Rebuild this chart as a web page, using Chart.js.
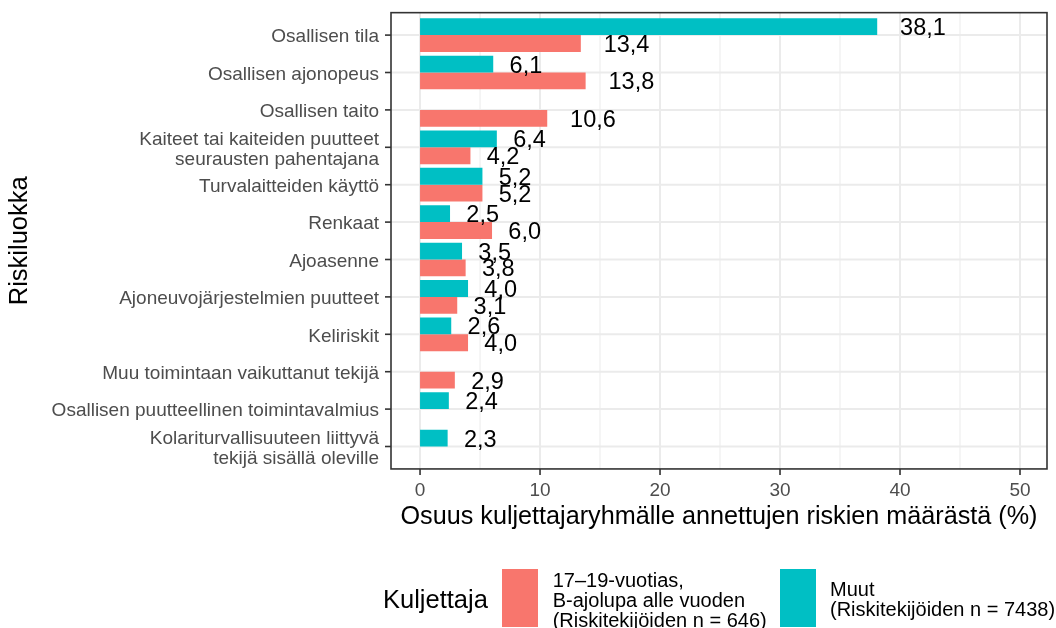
<!DOCTYPE html>
<html>
<head>
<meta charset="utf-8">
<title>Riskiluokat kuljettajaryhmittäin</title>
<script src="https://cdn.jsdelivr.net/npm/chart.js@4.4.1/dist/chart.umd.min.js"></script>
<style>
  html, body { margin: 0; padding: 0; background: #fff; }
  #wrap { position: relative; width: 1056px; height: 628px; overflow: hidden;
          font-family: "Liberation Sans", Arial, sans-serif; }
  #chart { position: absolute; left: 0; top: 0; }
  .lg { position: absolute; color: #000; white-space: nowrap; }
  .lg-title { font-size: 25.5px; line-height: 25.5px; }
  .lg-text { font-size: 20px; line-height: 20px; }
  .lg-key { position: absolute; width: 36px; height: 58px; }
</style>
</head>
<body>
<div id="wrap">
  <canvas id="chart" width="1056" height="628"></canvas>
  <div id="legend"></div>
</div>
<script>
// Riskiluokat (ylhäältä alas)
const categories = [
    'Osallisen tila',
    'Osallisen ajonopeus',
    'Osallisen taito',
    ['Kaiteet tai kaiteiden puutteet', 'seurausten pahentajana'],
    'Turvalaitteiden käyttö',
    'Renkaat',
    'Ajoasenne',
    'Ajoneuvojärjestelmien puutteet',
    'Keliriskit',
    'Muu toimintaan vaikuttanut tekijä',
    'Osallisen puutteellinen toimintavalmius',
    ['Kolariturvallisuuteen liittyvä', 'tekijä sisällä oleville']
];

// Osuus kuljettajaryhmälle annettujen riskien määrästä (%)
const muutValues   = [38.1, 6.1, null, 6.4, 5.2, 2.5, 3.5, 4.0, 2.6, null, 2.4, 2.3];
const nuoretValues = [13.4, 13.8, 10.6, 4.2, 5.2, 6.0, 3.8, 3.1, 4.0, 2.9, null, null];

const nuoretLabel = ['17–19-vuotias,', 'B-ajolupa alle vuoden', '(Riskitekijöiden n = 646)'];
const muutLabel = ['Muut', '(Riskitekijöiden n = 7438)'];

const xTicks = [0, 10, 20, 30, 40, 50];
const xMinorTicks = [5, 15, 25, 35, 45];

const RED = '#F8766D';
const TEAL = '#00BFC4';

Chart.defaults.font.family = '"Liberation Sans", Arial, sans-serif';

// ggplot-tyylinen paneeli: ruudukko, kehys, tikit ja arvotekstit
const panelPlugin = {
    id: 'panel',
    beforeDatasetsDraw(chart) {
        const { ctx, chartArea: a, scales: { x, y } } = chart;
        const ext = (a.bottom - a.top) / categories.length * 0.1;
        const top = a.top - ext, bottom = a.bottom + ext;
        ctx.save();
        ctx.strokeStyle = '#EBEBEB';
        ctx.lineWidth = 1;
        xMinorTicks.forEach(v => {
            const px = x.getPixelForValue(v);
            ctx.beginPath(); ctx.moveTo(px, top); ctx.lineTo(px, bottom); ctx.stroke();
        });
        ctx.lineWidth = 2;
        xTicks.forEach(v => {
            const px = x.getPixelForValue(v);
            ctx.beginPath(); ctx.moveTo(px, top); ctx.lineTo(px, bottom); ctx.stroke();
        });
        categories.forEach((c, i) => {
            const py = y.getPixelForValue(i);
            ctx.beginPath(); ctx.moveTo(a.left, py); ctx.lineTo(a.right, py); ctx.stroke();
        });
        ctx.restore();
    },
    afterDatasetsDraw(chart) {
        const { ctx, chartArea: a, scales: { x, y } } = chart;
        const ext = (a.bottom - a.top) / categories.length * 0.1;
        const top = a.top - ext, bottom = a.bottom + ext;
        ctx.save();

        // arvotekstit
        ctx.font = '23.5px "Liberation Sans", Arial, sans-serif';
        ctx.fillStyle = '#000';
        ctx.textAlign = 'left';
        ctx.textBaseline = 'middle';
        chart.data.datasets.forEach((ds, di) => {
            chart.getDatasetMeta(di).data.forEach((bar, i) => {
                const v = ds.data[i];
                if (v === null || v === undefined) return;
                const txt = v.toFixed(1).replace('.', ',');
                const w = ctx.measureText(txt).width;
                ctx.fillText(txt, bar.x + w * 0.5, bar.y + 2);
            });
        });

        // kehys ja tikit
        ctx.strokeStyle = '#333333';
        ctx.lineWidth = 1.6;
        ctx.strokeRect(a.left, top, a.right - a.left, bottom - top);
        categories.forEach((c, i) => {
            const py = y.getPixelForValue(i);
            ctx.beginPath(); ctx.moveTo(a.left - 6, py); ctx.lineTo(a.left, py); ctx.stroke();
        });
        xTicks.forEach(v => {
            const px = x.getPixelForValue(v);
            ctx.beginPath(); ctx.moveTo(px, bottom); ctx.lineTo(px, bottom + 6); ctx.stroke();
        });
        ctx.restore();
    }
};

new Chart(document.getElementById('chart'), {
    type: 'bar',
    data: {
        labels: categories,
        datasets: [
            { label: muutLabel.join(' '), data: muutValues, backgroundColor: TEAL },
            { label: nuoretLabel.join(' '), data: nuoretValues, backgroundColor: RED }
        ]
    },
    options: {
        indexAxis: 'y',
        responsive: false,
        animation: false,
        devicePixelRatio: 1,
        categoryPercentage: 0.9,
        barPercentage: 1.0,
        layout: { padding: { top: 16.4, right: 9, left: 0, bottom: 0 } },
        plugins: { legend: { display: false }, tooltip: { enabled: false } },
        scales: {
            x: {
                type: 'linear',
                min: -2.42,
                max: 52.25,
                afterBuildTicks: s => { s.ticks = xTicks.map(v => ({ value: v })); },
                afterFit: s => { s.height = 628 - 465.2; s.paddingLeft = 0; s.paddingRight = 0; },
                grid: { display: false, drawTicks: false },
                border: { display: false },
                ticks: { color: '#4D4D4D', font: { size: 19 }, padding: 14 },
                title: {
                    display: true,
                    text: 'Osuus kuljettajaryhmälle annettujen riskien määrästä (%)',
                    color: '#000',
                    font: { size: 25.2 },
                    padding: { top: 0, bottom: 95.7 }
                }
            },
            y: {
                afterFit: s => { s.width = 391; s.paddingTop = 0; s.paddingBottom = 0; },
                grid: { display: false, drawTicks: false },
                border: { display: false },
                ticks: {
                    autoSkip: false,
                    color: '#4D4D4D',
                    font: { size: 19, lineHeight: 20 / 19 },
                    padding: 12,
                    labelOffset: 2
                },
                title: {
                    display: true,
                    text: 'Riskiluokka',
                    color: '#000',
                    font: { size: 25.5 },
                    padding: { top: 5, bottom: 0 }
                }
            }
        }
    },
    plugins: [panelPlugin]
});

// legenda ggplotin tapaan alas
function legendBlock(left, top, lines) {
    return `<div class="lg lg-text" style="left:${left}px;top:${top}px">${lines.join('<br>')}</div>`;
}
document.getElementById('legend').innerHTML =
    `<div class="lg lg-title" style="left:383px;top:586.7px">Kuljettaja</div>` +
    `<div class="lg-key" style="left:502px;top:568.5px;background:${RED}"></div>` +
    legendBlock(552.7, 569.8, nuoretLabel) +
    `<div class="lg-key" style="left:779.5px;top:568.5px;background:${TEAL}"></div>` +
    legendBlock(830, 579.1, muutLabel);
</script>
</body>
</html>
